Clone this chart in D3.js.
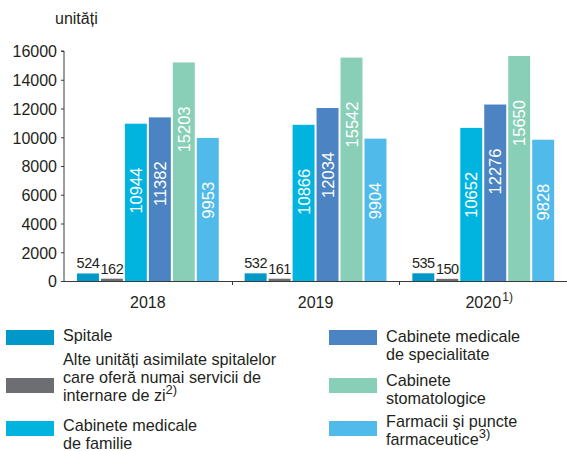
<!DOCTYPE html>
<html>
<head>
<meta charset="utf-8">
<script src="https://cdn.jsdelivr.net/npm/d3@7"></script>
<style>
  body { margin: 0; background: #fff; }
  svg { font-family: "Liberation Sans", Arial, sans-serif; }
</style>
</head>
<body>
<div id="chart"></div>
<script>
// data
var years = ['2018', '2019', '2020']
var yearNotes = ['', '', '1)']
var seriesNames = ['spitale', 'alte', 'familie', 'specialitate', 'stomato', 'farmacii']
var spitale = [524, 532, 535]
var alte = [162, 161, 150]
var familie = [10944, 10866, 10652]
var specialitate = [11382, 12034, 12276]
var stomato = [15203, 15542, 15650]
var farmacii = [9953, 9904, 9828]
var yTicks = [0, 2000, 4000, 6000, 8000, 10000, 12000, 14000, 16000]

var colors = {
  spitale: '#0098c8',
  alte: '#6d6e71',
  familie: '#00b4df',
  specialitate: '#4b83c3',
  stomato: '#89cfb8',
  farmacii: '#50bbea'
}

var values = { spitale, alte, familie, specialitate, stomato, farmacii }

var w = 567, h = 451
var margin = { top: 51, left: 64, bottom: 170 }
var baseY = 281

var svg = d3.select('#chart').append('svg')
  .attr('width', w)
  .attr('height', h)

var yScale = d3.scaleLinear()
  .domain([0, 16000])
  .range([baseY, margin.top])

var xYear = d3.scaleBand()
  .domain(years)
  .range([margin.left, margin.left + 3 * 167.7])
  .padding(0)

var xSeries = d3.scaleBand()
  .domain(seriesNames)
  .range([0, xYear.bandwidth()])
  .paddingInner(0.083)
  .paddingOuter(0.54)

// y axis
var yAxis = d3.axisLeft(yScale)
  .tickValues(yTicks)
  .tickSize(3)
  .tickPadding(4)
  .tickFormat(d => d)

svg.append('g')
  .attr('transform', `translate(${margin.left},0)`)
  .attr('class', 'y-axis')
  .call(yAxis)
  .call(g => g.select('.domain').attr('d', `M-3,${margin.top}H0V${baseY}`))
  .call(g => g.selectAll('line').attr('stroke', '#3a3a3a'))
  .call(g => g.select('.domain').attr('stroke', '#3a3a3a'))
  .selectAll('text')
  .style('font-size', '16px')
  .style('font-family', '"Liberation Sans", Arial, sans-serif')
  .attr('fill', '#231f20')
  .attr('dy', '0.36em')

svg.append('text')
  .attr('x', 55)
  .attr('y', 24)
  .text('unități')
  .style('font-size', '16px')
  .attr('fill', '#231f20')

// bars
var rows = []
years.forEach((yr, i) => {
  seriesNames.forEach(s => {
    rows.push({ year: yr, series: s, value: values[s][i] })
  })
})

svg.selectAll('.bar')
  .data(rows)
  .enter()
  .append('rect')
  .attr('class', d => `bar ${d.series}`)
  .attr('x', d => xYear(d.year) + xSeries(d.series))
  .attr('y', d => yScale(d.value))
  .attr('width', xSeries.bandwidth())
  .attr('height', d => baseY - yScale(d.value))
  .style('fill', d => colors[d.series])

// small value labels above bars
svg.selectAll('.small-label')
  .data(rows.filter(d => d.value < 2000))
  .enter()
  .append('text')
  .attr('class', 'small-label')
  .attr('x', d => xYear(d.year) + xSeries(d.series) + xSeries.bandwidth() / 2)
  .attr('y', d => yScale(d.value) - 5)
  .attr('text-anchor', 'middle')
  .style('font-size', '14.5px')
  .style('letter-spacing', '-0.5px')
  .attr('fill', '#231f20')
  .text(d => d.value)

// vertical labels inside bars
svg.selectAll('.big-label')
  .data(rows.filter(d => d.value >= 2000))
  .enter()
  .append('text')
  .attr('class', 'big-label')
  .attr('transform', d => {
    var cx = xYear(d.year) + xSeries(d.series) + xSeries.bandwidth() / 2 + 6
    return `translate(${cx},${yScale(d.value) + 44}) rotate(-90)`
  })
  .attr('text-anchor', 'end')
  .style('font-size', '16.5px')
  .attr('fill', '#fff')
  .text(d => d.value)

// x axis
svg.append('line')
  .attr('x1', margin.left)
  .attr('x2', w)
  .attr('y1', baseY + 0.5)
  .attr('y2', baseY + 0.5)
  .attr('stroke', '#3a3a3a')
  .attr('stroke-width', 1.2)

svg.selectAll('.x-tick')
  .data(years.slice(1))
  .enter()
  .append('line')
  .attr('class', 'x-tick')
  .attr('x1', d => Math.round(xYear(d)) + 0.5)
  .attr('x2', d => Math.round(xYear(d)) + 0.5)
  .attr('y1', baseY)
  .attr('y2', baseY + 4)
  .attr('stroke', '#3a3a3a')

svg.selectAll('.year-label')
  .data(years)
  .enter()
  .append('text')
  .attr('class', 'year-label')
  .attr('x', d => xYear(d) + xYear.bandwidth() / 2)
  .attr('y', 308)
  .attr('text-anchor', 'middle')
  .style('font-size', '16px')
  .attr('fill', '#231f20')
  .text(d => d)

svg.selectAll('.year-note')
  .data(years.map((y, i) => ({ year: y, note: yearNotes[i] })).filter(d => d.note))
  .enter()
  .append('text')
  .attr('class', 'year-note')
  .attr('x', d => xYear(d.year) + xYear.bandwidth() / 2 + 19)
  .attr('y', 301)
  .style('font-size', '12px')
  .attr('fill', '#231f20')
  .text(d => d.note)

// legend
var legendItems = [
  { series: 'spitale', x: 6, y: 330, lines: ['Spitale'], textY: 341, note: '' },
  { series: 'alte', x: 6, y: 378, lines: ['Alte unități asimilate spitalelor', 'care oferă numai servicii de', 'internare de zi'], textY: 365, note: '2)' },
  { series: 'familie', x: 6, y: 421, lines: ['Cabinete medicale', 'de familie'], textY: 431, note: '' },
  { series: 'specialitate', x: 329, y: 330, lines: ['Cabinete medicale', 'de specialitate'], textY: 342, note: '' },
  { series: 'stomato', x: 329, y: 378, lines: ['Cabinete', 'stomatologice'], textY: 386, note: '' },
  { series: 'farmacii', x: 329, y: 421, lines: ['Farmacii şi puncte', 'farmaceutice'], textY: 427, note: '3)' }
]

var legend = svg.selectAll('.legend-entry')
  .data(legendItems)
  .enter()
  .append('g')
  .attr('class', 'legend-entry')

legend.append('rect')
  .attr('x', d => d.x)
  .attr('y', d => d.y)
  .attr('width', 48)
  .attr('height', 15)
  .style('fill', d => colors[d.series])

legend.append('text')
  .attr('x', d => d.x + 57)
  .attr('y', d => d.textY)
  .style('font-size', '16.2px')
  .attr('fill', '#231f20')
  .each(function(d) {
    var t = d3.select(this)
    d.lines.forEach((line, i) => {
      t.append('tspan')
        .attr('x', d.x + 57)
        .attr('dy', i === 0 ? 0 : 18.2)
        .text(line)
    })
    if (d.note) {
      t.append('tspan')
        .attr('dy', -7)
        .style('font-size', '13px')
        .text(d.note)
    }
  })
</script>
</body>
</html>
